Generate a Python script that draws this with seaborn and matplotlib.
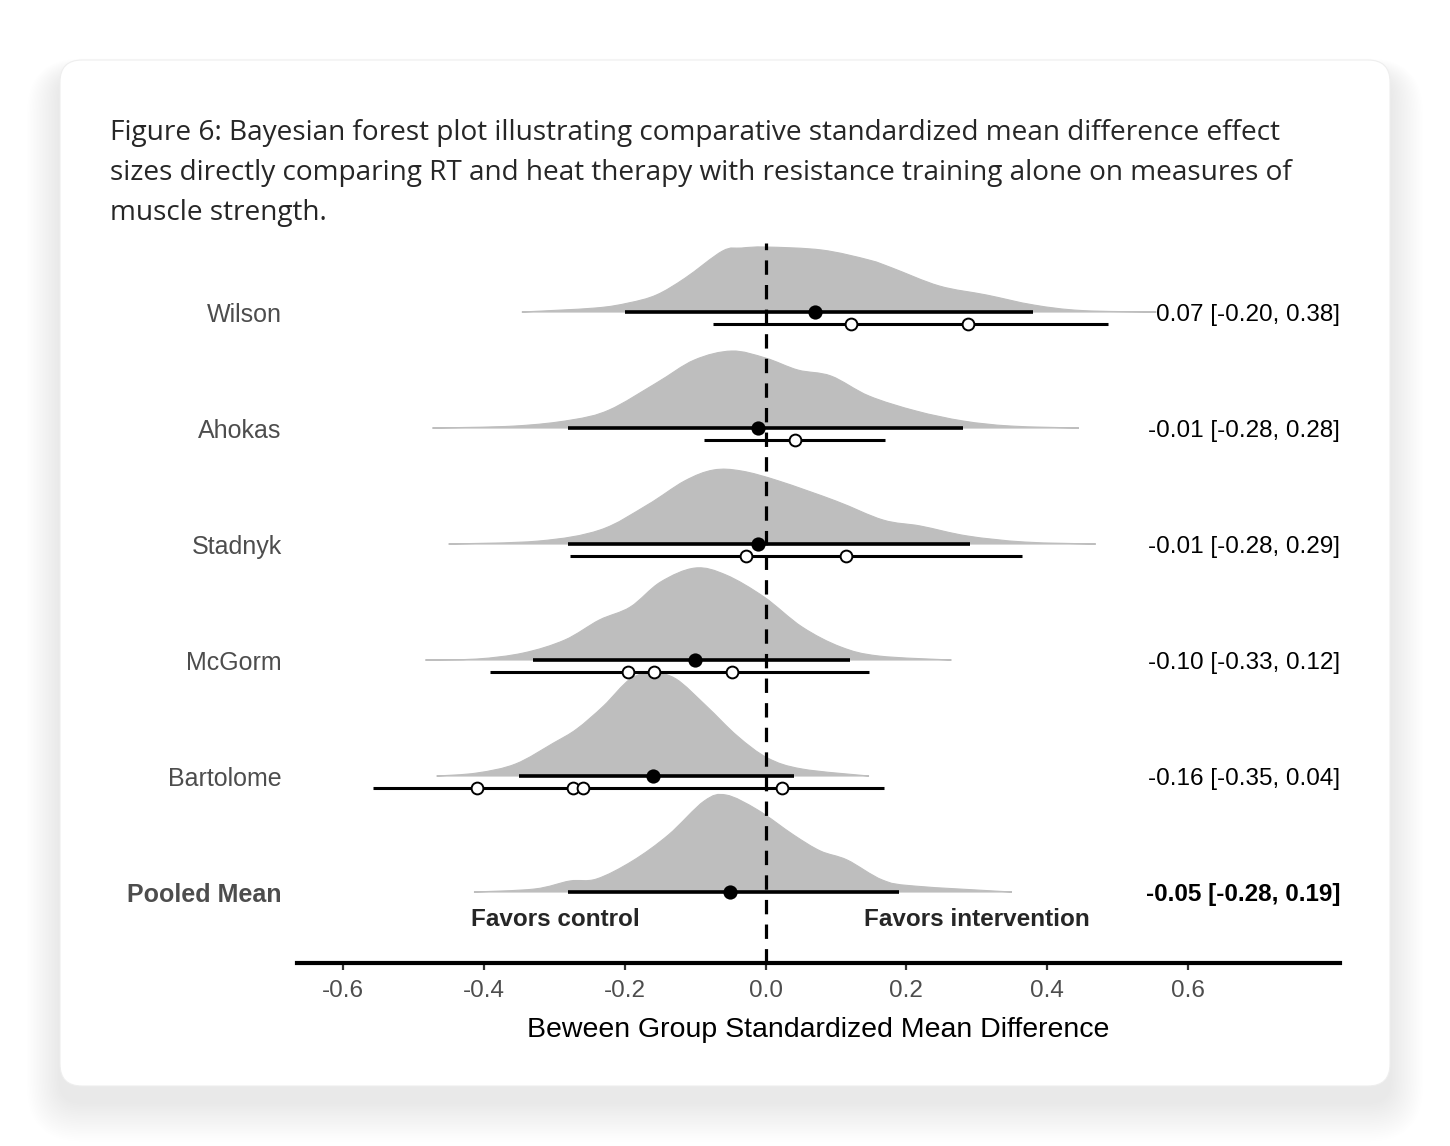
import numpy as np
import pandas as pd
import seaborn as sns
import matplotlib.pyplot as plt
from matplotlib.patches import FancyBboxPatch, PathPatch
from matplotlib.path import Path

# study rows, top to bottom
studies = ["Wilson", "Ahokas", "Stadnyk", "McGorm", "Bartolome", "Pooled Mean"]
est = [0.07, -0.01, -0.01, -0.10, -0.16, -0.05]
lo = [-0.20, -0.28, -0.28, -0.33, -0.35, -0.28]
hi = [0.38, 0.28, 0.29, 0.12, 0.04, 0.19]

# observed effects (open circles) and their span
obs_lo = [-0.074, -0.087, -0.277, -0.391, -0.558, None]
obs_hi = [0.487, 0.170, 0.364, 0.147, 0.168, None]
obs_pts = [[0.121, 0.288], [0.042], [-0.028, 0.115],
           [-0.195, -0.159, -0.048], [-0.409, -0.274, -0.259, 0.024], []]

# posterior densities (x, height)
dens_x = [
    [-0.346, -0.242, -0.195, -0.155, -0.114, -0.061, -0.034, 0.001, 0.080, 0.147, 0.180, 0.247, 0.314, 0.381, 0.449, 0.555],
    [-0.473, -0.356, -0.276, -0.222, -0.155, -0.101, -0.048, 0.0, 0.046, 0.093, 0.147, 0.214, 0.281, 0.348, 0.445],
    [-0.450, -0.322, -0.235, -0.168, -0.115, -0.074, -0.034, 0.019, 0.100, 0.167, 0.220, 0.287, 0.368, 0.469],
    [-0.483, -0.410, -0.344, -0.285, -0.236, -0.192, -0.149, -0.100, -0.056, -0.002, 0.052, 0.107, 0.161, 0.264],
    [-0.467, -0.410, -0.355, -0.301, -0.268, -0.230, -0.192, -0.160, -0.127, -0.084, -0.040, 0.003, 0.052, 0.147],
    [-0.414, -0.328, -0.278, -0.240, -0.189, -0.138, -0.087, -0.056, -0.011, 0.040, 0.078, 0.116, 0.166, 0.211, 0.350],
]
dens_h = [
    [0, 4, 9, 17, 34, 61, 64, 65, 62, 52, 44, 26, 17, 7, 1.5, 0],
    [0, 2, 8, 18, 45, 68, 77, 70, 58, 52, 32, 17, 7, 2, 0],
    [0, 3, 14, 39, 63, 74, 73, 63, 43, 24, 18, 8, 2, 0],
    [0, 1, 7, 20, 40, 53, 78, 92, 85, 63, 33, 13, 4, 0],
    [0, 3, 12, 33, 47, 70, 97, 103, 97, 70, 40, 18, 7, 0],
    [0, 3, 11, 13, 31, 57, 91, 97, 82, 57, 41, 32, 12, 6, 0],
]

ticks = [-0.6, -0.4, -0.2, 0.0, 0.2, 0.4, 0.6]
title_lines = [
    "Figure 6: Bayesian forest plot illustrating comparative standardized mean difference effect",
    "sizes directly comparing RT and heat therapy with resistance training alone on measures of",
    "muscle strength.",
]


def ridge_path(x, y, y0):
    # smooth outline through the read points (Catmull-Rom drawn as cubic Bezier)
    verts = [(x[0], y0), (x[0], y[0])]
    codes = [Path.MOVETO, Path.LINETO]
    m = len(x)
    for j in range(m - 1):
        p0 = (x[max(j - 1, 0)], y[max(j - 1, 0)])
        p1 = (x[j], y[j])
        p2 = (x[j + 1], y[j + 1])
        p3 = (x[min(j + 2, m - 1)], y[min(j + 2, m - 1)])
        c1 = (p1[0] + (p2[0] - p0[0]) / 6, max(y0, p1[1] + (p2[1] - p0[1]) / 6))
        c2 = (p2[0] - (p3[0] - p1[0]) / 6, max(y0, p2[1] - (p3[1] - p1[1]) / 6))
        verts += [c1, c2, p2]
        codes += [Path.CURVE4] * 3
    verts += [(x[-1], y0), (x[0], y0)]
    codes += [Path.LINETO, Path.CLOSEPOLY]
    return Path(verts, codes)


sns.set_theme(style="white")
plt.rcParams['font.family'] = ['Liberation Sans', 'DejaVu Sans']

W, H = 1450, 1146
fig = plt.figure(figsize=(W / 100, H / 100), dpi=100)
fig.patch.set_facecolor("white")

# card background with soft shadow
bg = fig.add_axes([0, 0, 1, 1], zorder=-10)
bg.set_xlim(0, W)
bg.set_ylim(H, 0)
bg.axis("off")
for k in range(22, 0, -1):
    sh = FancyBboxPatch((60 - k * 1.5, 60 + 16 - k * 0.8), 1330 + k * 3.0, 1026 + k * 2.6,
                        boxstyle="round,pad=0,rounding_size=%d" % (22 + k * 1.5),
                        fc="black", ec="none", alpha=0.0042)
    bg.add_patch(sh)
card = FancyBboxPatch((60, 60), 1330, 1026, boxstyle="round,pad=0,rounding_size=22",
                      fc="white", ec="#eeeeee", lw=0.8)
bg.add_patch(card)

for i, line in enumerate(title_lines):
    fig.text(110 / W, 1 - (140 + 40 * i) / H, line, fontsize=20.2, family=["Open Sans", "DejaVu Sans"],
             color="#262626", va="baseline", ha="left")

# main plot
ax = fig.add_axes([297 / W, 1 - 963 / H, (1340 - 297) / W, (963 - 235) / H])
ax.patch.set_alpha(0)
xmin, xmax = -0.6653, 0.8158
ax.set_xlim(xmin, xmax)
ax.set_ylim(-0.612, 5.664)

n = len(studies)
base = [n - 1 - i for i in range(n)]
row_px = 116.0

for i in range(n):
    x = np.array(dens_x[i])
    h = base[i] + np.array(dens_h[i]) / row_px
    ax.add_patch(PathPatch(ridge_path(x, h, base[i]), fc="#bebebe", ec="#bebebe", lw=0.8,
                           zorder=1 + i * 0.01))

ax.plot([0, 0], [-0.612, 5.595], color="black", lw=2.3, dashes=(4.5, 3.2), zorder=3)

# intervals
ax.hlines(base, lo, hi, color="black", lw=2.6, zorder=4)
off = 0.103
rows_obs = [i for i in range(n) if obs_lo[i] is not None]
ax.hlines([base[i] - off for i in rows_obs], [obs_lo[i] for i in rows_obs],
          [obs_hi[i] for i in rows_obs], color="black", lw=2.2, zorder=4)

pts = pd.DataFrame({"x": est, "y": base})
sns.scatterplot(data=pts, x="x", y="y", s=105, color="black", edgecolor="black", linewidth=0, zorder=6, ax=ax)
obs_df = pd.DataFrame([(p, base[i] - off) for i in range(n) for p in obs_pts[i]], columns=["x", "y"])
sns.scatterplot(data=obs_df, x="x", y="y", s=72, color="white", edgecolor="black", linewidth=1.4, zorder=6, ax=ax)

# right-hand labels
for i in range(n):
    txt = f"{est[i]:.2f} [{lo[i]:.2f}, {hi[i]:.2f}]"
    ax.text(xmax, base[i], txt, ha="right", va="center_baseline", fontsize=17.5, color="black",
            fontweight="bold" if i == n - 1 else "normal", zorder=7)

ax.text(-0.299, -0.216, "Favors control", ha="center", va="center_baseline", fontsize=17.5, fontweight="bold")
ax.text(0.30, -0.216, "Favors intervention", ha="center", va="center_baseline", fontsize=17.5, fontweight="bold")

for s in ["top", "right", "left"]:
    ax.spines[s].set_visible(False)
ax.spines["bottom"].set_linewidth(3)
ax.spines["bottom"].set_color("black")

ax.set_xticks(ticks)
ax.set_xticklabels([f"{t:.1f}" for t in ticks])
ax.tick_params(axis="x", direction="out", length=5, width=1.6, color="#333333",
               labelsize=17.5, labelcolor="#4d4d4d", pad=7, bottom=True)
ax.set_yticks(base)
ax.set_yticklabels(studies)
ax.tick_params(axis="y", length=0, pad=11, labelsize=18, labelcolor="#4d4d4d")
for lab in ax.get_yticklabels():
    lab.set_verticalalignment("center_baseline")
ax.get_yticklabels()[-1].set_fontweight("bold")
ax.set_xlabel("Beween Group Standardized Mean Difference", fontsize=20.5, color="black", labelpad=11)
ax.set_ylabel("")
ax.grid(False)

fig.savefig("out.png", dpi=100)
